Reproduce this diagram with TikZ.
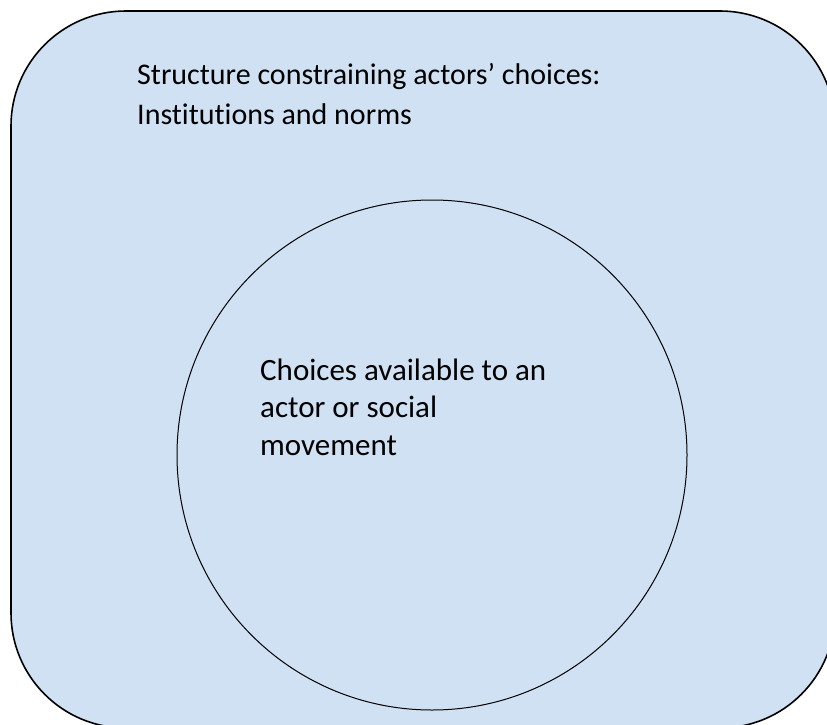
\documentclass[tikz,border=0pt]{standalone}
\usepackage{fontspec}
\setmainfont{Carlito}[Ligatures=CommonOff]
\usetikzlibrary{positioning}
\definecolor{paleblue}{RGB}{207,225,242}

\begin{document}
\begin{tikzpicture}[x=1pt,y=-1pt]
  \def\rad{115};
  \def\r{255};
  \useasboundingbox (0,0) rectangle (827,725); % page size
  \draw[line width=1.6pt, fill=paleblue, rounded corners=\rad] (11,11) rectangle (835,728); % outer box, cut at the right and bottom
  \node(circ)[draw, circle, line width=1pt, minimum size=2*\r, inner sep=0] at (432,455) {}; % inner circle
  \node(structure)[anchor=base west, align=left, inner sep=0, font=\fontsize{30}{39.5}\selectfont] at (137,124) {Structure constraining actors’ choices:\\Institutions and norms}; % base = last line
  \node(choices)[anchor=base west, align=left, inner sep=0, font=\fontsize{31}{37.5}\selectfont] at (260,455) {Choices available to an\\actor or social\\movement};
\end{tikzpicture}
\end{document}
